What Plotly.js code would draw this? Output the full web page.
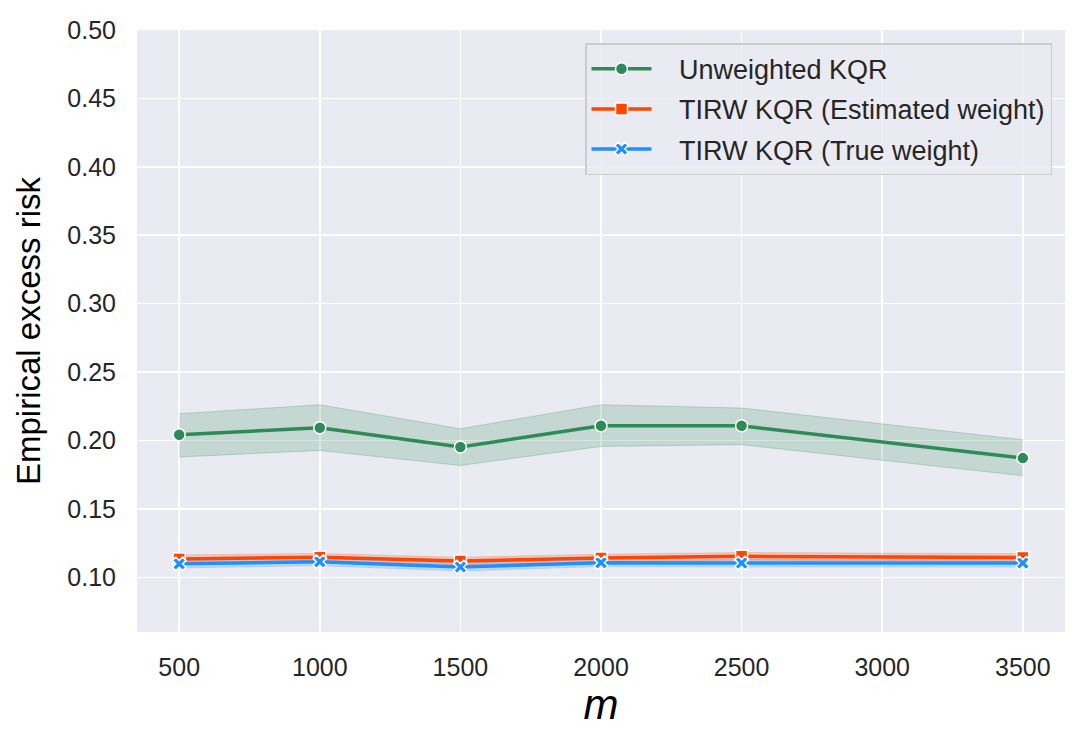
<!DOCTYPE html>
<html>
<head>
<meta charset="utf-8">
<script src="https://cdn.plot.ly/plotly-3.0.1.min.js"></script>
<style>
  html, body { margin: 0; padding: 0; background: #fff; }
  #chart { width: 1085px; height: 748px; }
</style>
</head>
<body>
<div id="chart"></div>
<script>
var m = [500, 1000, 1500, 2000, 2500, 3500];

var unweighted = [0.2042, 0.2093, 0.1952, 0.2107, 0.2107, 0.1871];
var unweightedLo = [0.1879, 0.1927, 0.1817, 0.1956, 0.1969, 0.1742];
var unweightedHi = [0.2195, 0.2261, 0.2086, 0.2261, 0.2237, 0.2005];

var estimated = [0.1134, 0.1146, 0.1119, 0.1141, 0.1153, 0.1144];
var estimatedLo = [0.1105, 0.1118, 0.1092, 0.1113, 0.1125, 0.1116];
var estimatedHi = [0.1163, 0.1174, 0.1146, 0.1169, 0.1181, 0.1172];

var trueW = [0.1098, 0.1114, 0.1075, 0.1107, 0.1104, 0.1104];
var trueLo = [0.1068, 0.1085, 0.1046, 0.1078, 0.1075, 0.1075];
var trueHi = [0.1128, 0.1143, 0.1104, 0.1136, 0.1133, 0.1133];

var names = ['Unweighted KQR', 'TIRW KQR (Estimated weight)', 'TIRW KQR (True weight)'];
var colors = ['#2E8B57', '#FF4500', '#1E90FF'];
var fills = ['rgba(46,139,87,0.2)', 'rgba(255,69,0,0.2)', 'rgba(30,144,255,0.2)'];
var edges = ['rgba(46,139,87,0.25)', 'rgba(255,69,0,0.2)', 'rgba(30,144,255,0.2)'];
var symbols = ['circle', 'square', 'x'];
var sizes = [12, 12, 12];

var means = [unweighted, estimated, trueW];
var lows = [unweightedLo, estimatedLo, trueLo];
var highs = [unweightedHi, estimatedHi, trueHi];

// small gap between legend line and label, like matplotlib's handletextpad
var pad = '\u00a0\u00a0\u00a0';

var traces = [];
for (let i = 0; i < means.length; i++) {
    traces.push({
        x: m, y: lows[i], type: 'scatter', mode: 'lines',
        line: {color: edges[i], width: 1},
        showlegend: false, hoverinfo: 'skip'
    });
    traces.push({
        x: m, y: highs[i], type: 'scatter', mode: 'lines',
        fill: 'tonexty', fillcolor: fills[i],
        line: {color: edges[i], width: 1},
        showlegend: false, hoverinfo: 'skip'
    });
}
for (let i = 0; i < means.length; i++) {
    traces.push({
        x: m, y: means[i], type: 'scatter', mode: 'lines+markers',
        name: pad + names[i],
        legendgroup: 'g' + i,
        line: {color: colors[i], width: 3.5},
        marker: {
            symbol: symbols[i], size: sizes[i], color: colors[i],
            line: {color: '#ffffff', width: 1.5}
        }
    });
}

var layout = {
    width: 1085, height: 748,
    margin: {l: 137, r: 20, t: 30, b: 116},
    paper_bgcolor: '#ffffff',
    plot_bgcolor: '#EAEAF2',
    font: {family: 'Liberation Sans, Arial, sans-serif', color: '#262626', size: 25},
    xaxis: {
        range: [350, 3650],
        tickvals: [500, 1000, 1500, 2000, 2500, 3000, 3500],
        gridcolor: '#ffffff', gridwidth: 1.5,
        zeroline: false, showline: false, ticks: '',
        ticklabelstandoff: 18,
        tickfont: {size: 25},
        automargin: false,
        title: {text: '<i>m</i>', font: {size: 42, color: '#000000'}, standoff: 9}
    },
    yaxis: {
        range: [0.06, 0.50],
        tickvals: [0.10, 0.15, 0.20, 0.25, 0.30, 0.35, 0.40, 0.45, 0.50],
        tickformat: '.2f',
        gridcolor: '#ffffff', gridwidth: 1.5,
        zeroline: false, showline: false, ticks: '',
        ticklabelstandoff: 20,
        tickfont: {size: 25},
        automargin: false,
        title: {text: 'Empirical excess risk', font: {size: 33, color: '#000000'}, standoff: 16}
    },
    legend: {
        x: 0.986, y: 0.978, xanchor: 'right', yanchor: 'top',
        traceorder: 'grouped', tracegroupgap: 2,
        bgcolor: 'rgba(234,234,242,0.85)',
        bordercolor: '#cccccc', borderwidth: 1.5,
        font: {size: 27, color: '#262626'},
        itemwidth: 60
    },
    showlegend: true
};

Plotly.newPlot('chart', traces, layout, {displayModeBar: false, staticPlot: true});
</script>
</body>
</html>
